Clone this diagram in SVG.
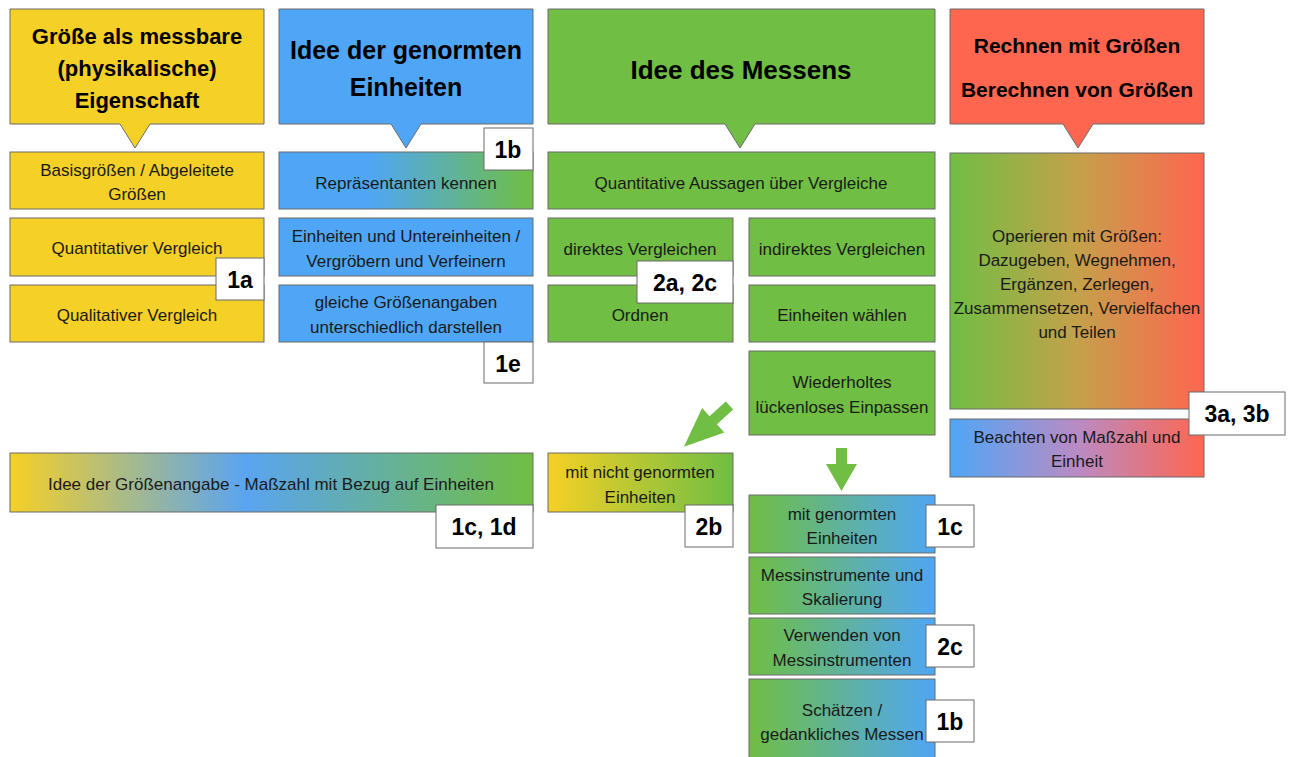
<svg xmlns="http://www.w3.org/2000/svg" width="1290" height="757" viewBox="0 0 1290 757">
<style>
  .b{stroke:#6b6b6b;stroke-width:1}
  .y{fill:#f5d026}
  .bl{fill:#4fa6f6}
  .g{fill:#70be43}
  .r{fill:#ff6650}
  .t{font-family:"Liberation Sans",Arial,sans-serif;font-size:17px;fill:#1a1a1a;text-anchor:middle}
  .h{font-family:"Liberation Sans",Arial,sans-serif;font-weight:bold;fill:#000;text-anchor:middle}
  .lb{fill:#fff;stroke:#6b6b6b;stroke-width:1}
  .lt{font-family:"Liberation Sans",Arial,sans-serif;font-weight:bold;font-size:23px;fill:#000;text-anchor:middle}
  .arr{fill:#70be43}
</style>
<defs>
  <linearGradient id="gBG" x1="0" x2="1" y1="0" y2="0"><stop offset="0" stop-color="#4fa6f6"/><stop offset="0.35" stop-color="#4fa6f6"/><stop offset="1" stop-color="#70be43"/></linearGradient>
  <linearGradient id="gYBG" x1="0" x2="1" y1="0" y2="0"><stop offset="0" stop-color="#f5d026"/><stop offset="0.45" stop-color="#5aa4f0"/><stop offset="1" stop-color="#70be43"/></linearGradient>
  <linearGradient id="gYG" x1="0" x2="1" y1="0" y2="0"><stop offset="0" stop-color="#f5d026"/><stop offset="1" stop-color="#70be43"/></linearGradient>
  <linearGradient id="gGB" x1="0" x2="1" y1="0" y2="0"><stop offset="0" stop-color="#70be43"/><stop offset="1" stop-color="#4fa6f6"/></linearGradient>
  <linearGradient id="gGR" x1="0" x2="1" y1="0" y2="0"><stop offset="0" stop-color="#70be43"/><stop offset="0.5" stop-color="#c4a14a"/><stop offset="1" stop-color="#ff6650"/></linearGradient>
  <linearGradient id="gBR" x1="0" x2="1" y1="0" y2="0"><stop offset="0" stop-color="#4fa6f6"/><stop offset="0.5" stop-color="#b98bc4"/><stop offset="1" stop-color="#ff6650"/></linearGradient>
</defs>

<g id="header-groesse">
  <path class="y b" d="M10,9 H264 V124 H150 L135,148 L120,124 H10 Z"/>
  <text class="h" font-size="22" x="137" y="44">Größe als messbare</text>
  <text class="h" font-size="22" x="137" y="76">(physikalische)</text>
  <text class="h" font-size="22" x="137" y="108">Eigenschaft</text>
</g>
<g id="header-einheiten">
  <path class="bl b" d="M279,9 H533 V124 H421 L406,148 L391,124 H279 Z"/>
  <text class="h" font-size="25" x="406" y="59">Idee der genormten</text>
  <text class="h" font-size="25" x="406" y="96">Einheiten</text>
</g>
<g id="header-messen">
  <path class="g b" d="M548,9 H935 V124 H755 L740,148 L725,124 H548 Z"/>
  <text class="h" font-size="26" x="741" y="79">Idee des Messens</text>
</g>
<g id="header-rechnen">
  <path class="r b" d="M950,9 H1204 V124 H1093 L1078,148 L1063,124 H950 Z"/>
  <text class="h" font-size="21" x="1077" y="53">Rechnen mit Größen</text>
  <text class="h" font-size="21" x="1077" y="97">Berechnen von Größen</text>
</g>

<g id="basisgroessen">
  <rect class="y b" x="10" y="152" width="254" height="57"/>
  <text class="t" x="137" y="176">Basisgrößen / Abgeleitete</text>
  <text class="t" x="137" y="200">Größen</text>
</g>
<g id="quantitativer-vergleich">
  <rect class="y b" x="10" y="218" width="254" height="58"/>
  <text class="t" x="137" y="254">Quantitativer Vergleich</text>
</g>
<g id="qualitativer-vergleich">
  <rect class="y b" x="10" y="285" width="254" height="57"/>
  <text class="t" x="137" y="321">Qualitativer Vergleich</text>
</g>
<g id="label-1a">
  <rect class="lb" x="216" y="258" width="48" height="42"/>
  <text class="lt" x="240" y="288">1a</text>
</g>

<g id="repraesentanten">
  <rect class="b" fill="url(#gBG)" x="279" y="152" width="254" height="57"/>
  <text class="t" x="406" y="189">Repräsentanten kennen</text>
</g>
<g id="label-1b-top">
  <rect class="lb" x="484" y="128" width="49" height="42"/>
  <text class="lt" x="508" y="158">1b</text>
</g>
<g id="untereinheiten">
  <rect class="bl b" x="279" y="218" width="254" height="58"/>
  <text class="t" x="406" y="242">Einheiten und Untereinheiten /</text>
  <text class="t" x="406" y="267">Vergröbern und Verfeinern</text>
</g>
<g id="groessenangaben-darstellen">
  <rect class="bl b" x="279" y="285" width="254" height="57"/>
  <text class="t" x="406" y="308">gleiche Größenangaben</text>
  <text class="t" x="406" y="333">unterschiedlich darstellen</text>
</g>
<g id="label-1e">
  <rect class="lb" x="484" y="342" width="49" height="41"/>
  <text class="lt" x="508" y="372">1e</text>
</g>

<g id="quantitative-aussagen">
  <rect class="g b" x="548" y="152" width="387" height="57"/>
  <text class="t" x="741" y="189">Quantitative Aussagen über Vergleiche</text>
</g>
<g id="direktes-vergleichen">
  <rect class="g b" x="548" y="218" width="185" height="58"/>
  <text class="t" x="640" y="255">direktes Vergleichen</text>
</g>
<g id="ordnen">
  <rect class="g b" x="548" y="285" width="185" height="57"/>
  <text class="t" x="640" y="321">Ordnen</text>
</g>
<g id="label-2a2c">
  <rect class="lb" x="637" y="261" width="96" height="42"/>
  <text class="lt" x="685" y="291">2a, 2c</text>
</g>
<g id="indirektes-vergleichen">
  <rect class="g b" x="749" y="218" width="186" height="58"/>
  <text class="t" x="842" y="255">indirektes Vergleichen</text>
</g>
<g id="einheiten-waehlen">
  <rect class="g b" x="749" y="285" width="186" height="57"/>
  <text class="t" x="842" y="321">Einheiten wählen</text>
</g>
<g id="einpassen">
  <rect class="g b" x="749" y="351" width="186" height="84"/>
  <text class="t" x="842" y="388">Wiederholtes</text>
  <text class="t" x="842" y="413">lückenloses Einpassen</text>
</g>

<g id="connectors">
  <polygon class="arr" transform="translate(729.5,405.5) rotate(137.8)" points="0,-5.5 22,-5.5 22,-16.5 61.5,0 22,16.5 22,5.5 0,5.5"/>
  <polygon class="arr" points="836,448 847,448 847,464 857,464 841.5,491 826,464 836,464"/>
</g>

<g id="groessenangabe">
  <rect class="b" fill="url(#gYBG)" x="10" y="453" width="523" height="59"/>
  <text class="t" x="271" y="490">Idee der Größenangabe - Maßzahl mit Bezug auf Einheiten</text>
</g>
<g id="label-1c1d">
  <rect class="lb" x="436" y="505" width="97" height="43"/>
  <text class="lt" x="484" y="535">1c, 1d</text>
</g>
<g id="nicht-genormt">
  <rect class="b" fill="url(#gYG)" x="548" y="453" width="185" height="59"/>
  <text class="t" x="640" y="478">mit nicht genormten</text>
  <text class="t" x="640" y="503">Einheiten</text>
</g>
<g id="label-2b">
  <rect class="lb" x="685" y="505" width="48" height="42"/>
  <text class="lt" x="709" y="535">2b</text>
</g>

<g id="genormt">
  <rect class="b" fill="url(#gGB)" x="749" y="495" width="186" height="58"/>
  <text class="t" x="842" y="520">mit genormten</text>
  <text class="t" x="842" y="544">Einheiten</text>
</g>
<g id="label-1c">
  <rect class="lb" x="926" y="505" width="48" height="42"/>
  <text class="lt" x="950" y="535">1c</text>
</g>
<g id="messinstrumente">
  <rect class="b" fill="url(#gGB)" x="749" y="557" width="186" height="57"/>
  <text class="t" x="842" y="581">Messinstrumente und</text>
  <text class="t" x="842" y="605">Skalierung</text>
</g>
<g id="verwenden">
  <rect class="b" fill="url(#gGB)" x="749" y="618" width="186" height="57"/>
  <text class="t" x="842" y="641">Verwenden von</text>
  <text class="t" x="842" y="666">Messinstrumenten</text>
</g>
<g id="label-2c">
  <rect class="lb" x="926" y="625" width="48" height="42"/>
  <text class="lt" x="950" y="655">2c</text>
</g>
<g id="schaetzen">
  <rect class="b" fill="url(#gGB)" x="749" y="679" width="186" height="85"/>
  <text class="t" x="842" y="716">Schätzen /</text>
  <text class="t" x="842" y="740">gedankliches Messen</text>
</g>
<g id="label-1b-bottom">
  <rect class="lb" x="926" y="700" width="48" height="42"/>
  <text class="lt" x="950" y="730">1b</text>
</g>

<g id="operieren">
  <rect class="b" fill="url(#gGR)" x="950" y="153" width="254" height="256"/>
  <text class="t" x="1077" y="242">Operieren mit Größen:</text>
  <text class="t" x="1077" y="266">Dazugeben, Wegnehmen,</text>
  <text class="t" x="1077" y="290">Ergänzen, Zerlegen,</text>
  <text class="t" x="1077" y="314">Zusammensetzen, Vervielfachen</text>
  <text class="t" x="1077" y="338">und Teilen</text>
</g>
<g id="beachten">
  <rect class="b" fill="url(#gBR)" x="950" y="419" width="254" height="58"/>
  <text class="t" x="1077" y="443">Beachten von Maßzahl und</text>
  <text class="t" x="1077" y="467">Einheit</text>
</g>
<g id="label-3a3b">
  <rect class="lb" x="1189" y="392" width="96" height="43"/>
  <text class="lt" x="1237" y="422">3a, 3b</text>
</g>
</svg>
